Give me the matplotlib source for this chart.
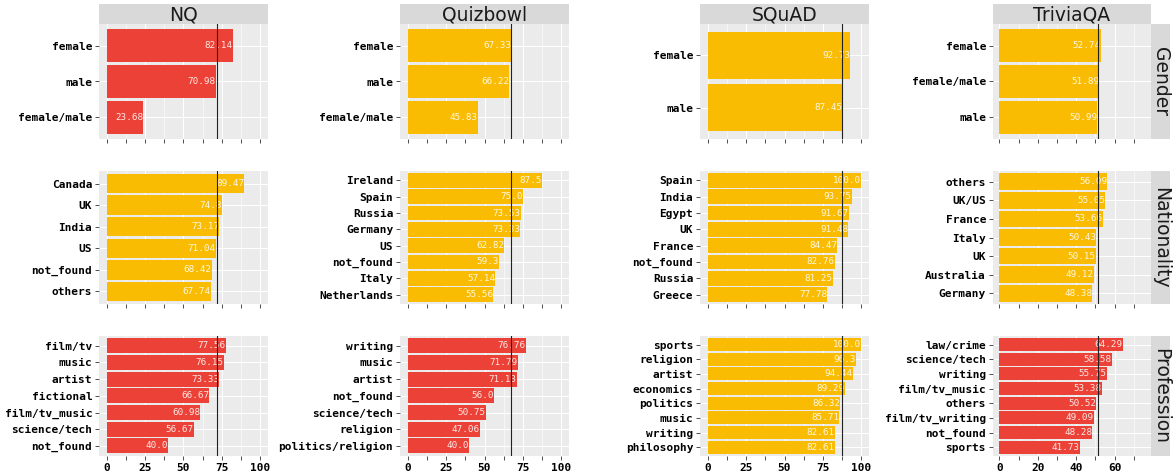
import matplotlib
matplotlib.use("Agg")
import matplotlib.pyplot as plt
from matplotlib.ticker import FixedLocator

# ---------------- data ----------------
datasets = ["NQ", "Quizbowl", "SQuAD", "TriviaQA"]
row_names = ["Gender", "Nationality", "Profession"]

nq_gender_labels = ["female", "male", "female/male"]
nq_gender_values = [82.14, 70.98, 23.68]
qb_gender_labels = ["female", "male", "female/male"]
qb_gender_values = [67.33, 66.22, 45.83]
sq_gender_labels = ["female", "male"]
sq_gender_values = [92.73, 87.45]
tq_gender_labels = ["female", "female/male", "male"]
tq_gender_values = [52.74, 51.89, 50.99]

nq_nat_labels = ["Canada", "UK", "India", "US", "not_found", "others"]
nq_nat_values = [89.47, 74.8, 73.17, 71.04, 68.42, 67.74]
qb_nat_labels = ["Ireland", "Spain", "Russia", "Germany", "US", "not_found", "Italy", "Netherlands"]
qb_nat_values = [87.5, 75.0, 73.53, 73.33, 62.82, 59.3, 57.14, 55.56]
sq_nat_labels = ["Spain", "India", "Egypt", "UK", "France", "not_found", "Russia", "Greece"]
sq_nat_values = [100.0, 93.75, 91.67, 91.48, 84.47, 82.76, 81.25, 77.78]
tq_nat_labels = ["others", "UK/US", "France", "Italy", "UK", "Australia", "Germany"]
tq_nat_values = [56.09, 55.05, 53.66, 50.43, 50.15, 49.12, 48.38]

nq_prof_labels = ["film/tv", "music", "artist", "fictional", "film/tv_music", "science/tech", "not_found"]
nq_prof_values = [77.56, 76.15, 73.33, 66.67, 60.98, 56.67, 40.0]
qb_prof_labels = ["writing", "music", "artist", "not_found", "science/tech", "religion", "politics/religion"]
qb_prof_values = [76.76, 71.79, 71.13, 56.0, 50.75, 47.06, 40.0]
sq_prof_labels = ["sports", "religion", "artist", "economics", "politics", "music", "writing", "philosophy"]
sq_prof_values = [100.0, 96.3, 94.44, 89.29, 86.32, 85.71, 82.61, 82.61]
tq_prof_labels = ["law/crime", "science/tech", "writing", "film/tv_music", "others", "film/tv_writing", "not_found", "sports"]
tq_prof_values = [64.29, 58.58, 55.75, 53.38, 50.52, 49.09, 48.28, 41.73]

overall_accuracy = [71.7, 67.0, 87.6, 51.3]

# group flag per panel (rows x datasets): 1 = red group, 0 = yellow group
panel_group = [
    [1, 0, 0, 0],
    [0, 0, 0, 0],
    [1, 1, 0, 1],
]

panels = [
    [(nq_gender_labels, nq_gender_values), (qb_gender_labels, qb_gender_values),
     (sq_gender_labels, sq_gender_values), (tq_gender_labels, tq_gender_values)],
    [(nq_nat_labels, nq_nat_values), (qb_nat_labels, qb_nat_values),
     (sq_nat_labels, sq_nat_values), (tq_nat_labels, tq_nat_values)],
    [(nq_prof_labels, nq_prof_values), (qb_prof_labels, qb_prof_values),
     (sq_prof_labels, sq_prof_values), (tq_prof_labels, tq_prof_values)],
]

# ---------------- style ----------------
W, H = 1176, 475
fig = plt.figure(figsize=(W / 100, H / 100), dpi=100)
fig.patch.set_facecolor("white")

RED = "#EB4136"
YELLOW = "#F9BC02"
PANEL_BG = "#EBEBEB"
STRIP_BG = "#D9D9D9"
TXT = "#1A1A1A"

col_x = [(99, 268), (400, 569), (700, 869), (992.7, 1150.7)]
row_y = [(24, 139), (170.7, 304.3), (335.7, 456)]
strip_top = (4, 24)
right_strip_x = (1150.7, 1170)

xlims = [(-5, 105), (-5, 105), (-5, 105), (-3.43, 78.7)]
majors = [[0, 25, 50, 75, 100]] * 3 + [[0, 20, 40, 60]]
minors = [[12.5, 37.5, 62.5, 87.5]] * 3 + [[10, 30, 50, 70]]


def rect(x0, x1, y0, y1):
    return [x0 / W, 1 - y1 / H, (x1 - x0) / W, (y1 - y0) / H]


mono = "DejaVu Sans Mono"

for r in range(3):
    for c in range(4):
        labels, values = panels[r][c]
        n = len(labels)
        ax = fig.add_axes(rect(col_x[c][0], col_x[c][1], row_y[r][0], row_y[r][1]))
        ax.set_facecolor(PANEL_BG)
        for s in ax.spines.values():
            s.set_visible(False)
        ypos = list(range(n))
        color = RED if panel_group[r][c] == 1 else YELLOW
        ax.set_axisbelow(True)
        ax.barh(ypos, values, height=0.9, color=color, zorder=2)
        for yp, v in zip(ypos, values):
            ax.text(v, yp, str(v), ha="right", va="center", fontsize=6.7,
                    family=mono, color="white", alpha=0.88, zorder=3)
        ax.axvline(overall_accuracy[c], color="#222222", lw=0.8, zorder=4)
        ax.set_xlim(*xlims[c])
        ax.set_ylim(n - 0.4, -0.6)
        ax.set_yticks(ypos)
        ax.set_yticklabels(labels, family=mono, fontweight="bold", fontsize=8, color="black")
        ax.xaxis.set_major_locator(FixedLocator(majors[c]))
        ax.xaxis.set_minor_locator(FixedLocator(minors[c]))
        ax.grid(True, which="major", color="white", lw=0.75, zorder=0)
        ax.grid(True, which="minor", axis="x", color="white", lw=0.4, zorder=0)
        ax.tick_params(axis="both", which="both", length=2.8, width=0.6, color="#333333", pad=2)
        if r == 2:
            ax.set_xticklabels([str(m) for m in majors[c]], family=mono,
                               fontweight="bold", fontsize=8, color="black")
        else:
            ax.set_xticklabels([])

# column strips
for c in range(4):
    sax = fig.add_axes(rect(col_x[c][0], col_x[c][1], strip_top[0], strip_top[1]))
    sax.set_facecolor(STRIP_BG)
    sax.set_xticks([]); sax.set_yticks([])
    for s in sax.spines.values():
        s.set_visible(False)
    sax.text(0.5, 0.45, datasets[c], ha="center", va="center", fontsize=13.5,
             color=TXT, transform=sax.transAxes)

# row strips
for r in range(3):
    sax = fig.add_axes(rect(right_strip_x[0], right_strip_x[1], row_y[r][0], row_y[r][1]))
    sax.set_facecolor(STRIP_BG)
    sax.set_xticks([]); sax.set_yticks([])
    for s in sax.spines.values():
        s.set_visible(False)
    sax.text(0.5, 0.5, row_names[r], ha="center", va="center", fontsize=13.5,
             color=TXT, rotation=-90, transform=sax.transAxes)

fig.savefig("out.png", dpi=100)
